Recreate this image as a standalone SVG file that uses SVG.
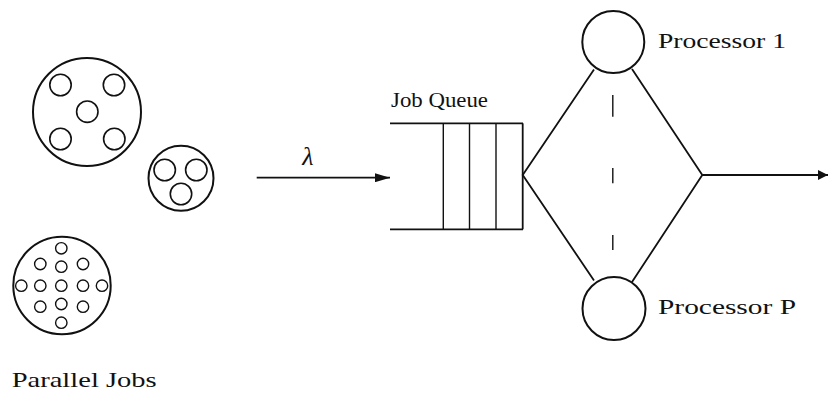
<svg xmlns="http://www.w3.org/2000/svg" width="828" height="393" viewBox="0 0 828 393">
<style>
.o{fill:none;stroke:#111;stroke-width:2}
.i{fill:none;stroke:#111;stroke-width:1.6}
.s{fill:none;stroke:#111;stroke-width:1.4}
.l{stroke:#111;stroke-width:1.8;fill:none}
.t{font-family:"Liberation Serif","DejaVu Serif",serif;fill:#111}
</style>
<defs>
<marker id="ah" viewBox="0 0 10 10" refX="10" refY="5" markerWidth="10" markerHeight="10" markerUnits="userSpaceOnUse" orient="auto">
<path d="M0,0 L10,5 L0,10 z" fill="#111"/>
</marker>
<marker id="ahL" viewBox="0 0 15 9" refX="15" refY="4.5" markerWidth="15" markerHeight="9" markerUnits="userSpaceOnUse" orient="auto">
<path d="M0,0 L15,4.5 L0,9 z" fill="#111"/>
</marker>
</defs>
<rect width="828" height="393" fill="#fff"/>

<g id="job-large">
<circle class="o" cx="87" cy="112" r="54"/>
<circle class="i" cx="60.5" cy="85" r="10.7"/>
<circle class="i" cx="114" cy="85" r="10.7"/>
<circle class="i" cx="87.3" cy="111.7" r="10.7"/>
<circle class="i" cx="60.5" cy="139" r="10.7"/>
<circle class="i" cx="114.3" cy="139" r="10.7"/>
</g>

<g id="job-medium">
<circle class="o" cx="181" cy="178.3" r="32.5"/>
<circle class="i" cx="164.7" cy="170" r="10.7"/>
<circle class="i" cx="196.3" cy="170" r="10.7"/>
<circle class="i" cx="181" cy="194" r="10.7"/>
</g>

<g id="job-small">
<circle class="o" cx="62" cy="285.5" r="48.7"/>
<circle class="s" cx="61.3" cy="248.3" r="5.7"/>
<circle class="s" cx="40.3" cy="264" r="5.7"/>
<circle class="s" cx="61.3" cy="266.7" r="5.7"/>
<circle class="s" cx="83" cy="264" r="5.7"/>
<circle class="s" cx="21.3" cy="285.7" r="5.7"/>
<circle class="s" cx="40.3" cy="285.7" r="5.7"/>
<circle class="s" cx="61.3" cy="285.7" r="5.7"/>
<circle class="s" cx="83" cy="285.7" r="5.7"/>
<circle class="s" cx="102" cy="285.7" r="5.7"/>
<circle class="s" cx="40.3" cy="306.7" r="5.7"/>
<circle class="s" cx="61.3" cy="304" r="5.7"/>
<circle class="s" cx="83" cy="306.7" r="5.7"/>
<circle class="s" cx="61.3" cy="322.7" r="5.7"/>
</g>

<g id="label-parallel">
<text class="t" x="11.7" y="386.5" font-size="22" textLength="145" lengthAdjust="spacingAndGlyphs">Parallel Jobs</text>
</g>

<g id="queue">
<line class="l" x1="390" y1="123.3" x2="523" y2="123.3"/>
<line class="l" x1="390" y1="229.3" x2="523" y2="229.3"/>
<line class="s" x1="443.3" y1="123.3" x2="443.3" y2="229.3"/>
<line class="s" x1="469.5" y1="123.3" x2="469.5" y2="229.3"/>
<line class="s" x1="496" y1="123.3" x2="496" y2="229.3"/>
<line class="l" x1="522.7" y1="123.3" x2="522.7" y2="229.3"/>
<text class="t" x="391" y="106.5" font-size="20" textLength="97" lengthAdjust="spacingAndGlyphs">Job Queue</text>
</g>

<g id="processor-1">
<circle class="o" cx="613.3" cy="42" r="31"/>
<text class="t" x="658" y="48.3" font-size="22" textLength="128" lengthAdjust="spacingAndGlyphs">Processor 1</text>
</g>

<g id="processor-p">
<circle class="o" cx="614" cy="308.5" r="31.5"/>
<text class="t" x="658" y="314.3" font-size="22" textLength="138" lengthAdjust="spacingAndGlyphs">Processor P</text>
</g>

<g id="connectors">
<line class="l" x1="256.7" y1="177.7" x2="390" y2="177.7" marker-end="url(#ahL)"/>
<text class="t" x="308" y="165" font-size="26" font-style="italic" text-anchor="middle">λ</text>
<polyline class="l" points="594,69.5 522.7,175 594,280.5"/>
<polyline class="l" points="632,69 702.3,175 632,282"/>
<line class="l" x1="702.3" y1="175" x2="828" y2="175" marker-end="url(#ah)"/>
<line class="s" x1="612.8" y1="95" x2="612.8" y2="116.7"/>
<line class="s" x1="612.8" y1="168" x2="612.8" y2="183.3"/>
<line class="s" x1="612.8" y1="235" x2="612.8" y2="250"/>
</g>
</svg>
